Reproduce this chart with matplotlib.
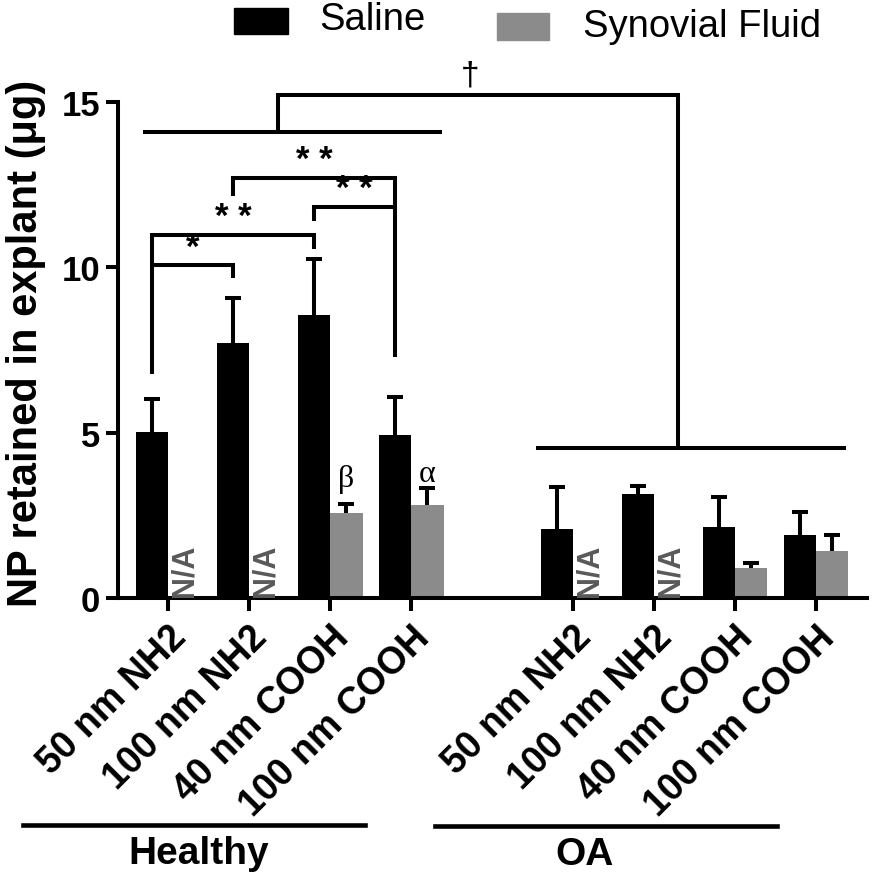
import numpy as np
import matplotlib
matplotlib.use("Agg")
import matplotlib.pyplot as plt
from matplotlib.patches import Rectangle
from matplotlib.lines import Line2D
import matplotlib.transforms as mtransforms

plt.rcParams['font.family'] = ['Liberation Sans', 'DejaVu Sans']

# data
categories = ['50 nm NH2', '100 nm NH2', '40 nm COOH', '100 nm COOH']
healthy_saline = [5.02, 7.70, 8.55, 4.92]
healthy_saline_sd = [1.0, 1.36, 1.70, 1.15]
healthy_sf = [np.nan, np.nan, 2.57, 2.82]
healthy_sf_sd = [np.nan, np.nan, 0.28, 0.50]
oa_saline = [2.09, 3.13, 2.15, 1.91]
oa_saline_sd = [1.25, 0.26, 0.91, 0.69]
oa_sf = [np.nan, np.nan, 0.90, 1.42]
oa_sf_sd = [np.nan, np.nan, 0.17, 0.47]

healthy_pos = [0, 1, 2, 3]
oa_pos = [5, 6, 7, 8]

W, H = 873, 879
LW = 2.9
GREY = '#8b8b8b'

fig = plt.figure(figsize=(W / 100, H / 100), dpi=100)
ax = fig.add_axes([118 / W, 1 - 599 / H, (867 - 118) / W, (599 - 102.7) / H])

bw = 0.4
pos = np.array(healthy_pos + oa_pos, dtype=float)
saline = np.array(healthy_saline + oa_saline)
saline_sd = np.array(healthy_saline_sd + oa_saline_sd)
sf = np.array(healthy_sf + oa_sf)
sf_sd = np.array(healthy_sf_sd + oa_sf_sd)

ax.bar(pos - bw / 2, saline, bw, color='black', zorder=2)
ok = ~np.isnan(sf)
ax.bar(pos[ok] + bw / 2, sf[ok], bw, color=GREY, zorder=2)

err_kw = dict(fmt='none', ecolor='black', elinewidth=LW, capsize=5.5, capthick=LW, zorder=3)
e1 = ax.errorbar(pos - bw / 2, saline, yerr=[np.zeros_like(saline), saline_sd], **err_kw)
e2 = ax.errorbar(pos[ok] + bw / 2, sf[ok], yerr=[np.zeros(ok.sum()), sf_sd[ok]], **err_kw)
# only the upper caps are shown
for e in (e1, e2):
    e[1][0].set_visible(False)

# N/A labels for missing synovial fluid bars
for p in pos[~ok]:
    ax.text(p + bw / 2, 0.05, 'N/A', rotation=90, ha='center', va='bottom',
            fontsize=22, fontweight='bold', color='#595959', zorder=4)

# greek markers
ax.text(2 + bw / 2, 3.38, 'β', ha='center', va='baseline', fontsize=23,
        family=['Liberation Serif', 'DejaVu Serif'])
ax.text(3 + bw / 2, 3.55, 'α', ha='center', va='baseline', fontsize=23,
        family=['Liberation Serif', 'DejaVu Serif'])

# significance brackets (saline bar centers)
def line(xs, ys):
    ax.plot(xs, ys, color='black', lw=LW, clip_on=False, zorder=5,
            solid_joinstyle='miter', solid_capstyle='butt')

brackets = [
    (0, 1, 10.05, 10.05, 9.66, '*'),
    (0, 2, 10.97, 6.78, 10.55, '* *'),
    (1, 3, 12.68, 12.16, 7.28, '* *'),
    (2, 3, 11.81, 11.40, 11.81, '* *'),
]
for a, b, y, lb, rb, lab in brackets:
    xa, xb = a - bw / 2, b - bw / 2
    line([xa, xa, xb, xb], [lb, y, y, rb])
    ax.text((xa + xb) / 2, y + 0.06, lab, ha='center', va='bottom',
            fontsize=25, fontweight='bold')

# healthy vs OA comparison
line([-0.31, 3.38], [14.09, 14.09])
line([4.54, 8.37], [4.54, 4.54])
line([1.35, 1.35, 6.30, 6.30], [14.09, 15.21, 15.21, 4.54])
ax.text(3.73, 15.35, '†', ha='center', va='bottom', fontsize=24)

# axes styling
ax.set_xlim(-0.62, 8.63)
ax.set_ylim(0, 15)
ax.set_yticks([0, 5, 10, 15])
ax.set_xticks(pos)
ax.set_xticklabels(categories * 2, rotation=45, ha='right', va='top',
                   rotation_mode='anchor', fontsize=27, fontweight='bold')
offset = mtransforms.ScaledTranslation(4 / 100, -5 / 100, fig.dpi_scale_trans)
for lbl in ax.get_xticklabels():
    lbl.set_transform(lbl.get_transform() + offset)
for lbl in ax.get_yticklabels():
    lbl.set_fontsize(25)
    lbl.set_fontweight('bold')
ax.spines['top'].set_visible(False)
ax.spines['right'].set_visible(False)
for s in ('left', 'bottom'):
    ax.spines[s].set_linewidth(LW)
ax.tick_params(axis='both', width=LW, length=9, direction='out')
ax.tick_params(axis='y', pad=4)
ax.tick_params(axis='x', pad=6)

fig.text(26 / W, 1 - 343 / H, 'NP retained in explant (μg)', rotation=90,
         ha='center', va='center', fontsize=30, fontweight='bold')

# group lines and labels
fig.add_artist(Line2D([23 / W, 365 / W], [1 - 826 / H] * 2, color='black', lw=3.3))
fig.add_artist(Line2D([435 / W, 777 / W], [1 - 827 / H] * 2, color='black', lw=3.3))
fig.text(199 / W, 1 - 854 / H, 'Healthy', ha='center', va='center', fontsize=28, fontweight='bold')
fig.text(585 / W, 1 - 855 / H, 'OA', ha='center', va='center', fontsize=28, fontweight='bold')

# legend
fig.add_artist(Rectangle((234 / W, 1 - 35 / H), 54 / W, 26 / H, color='black',
                         transform=fig.transFigure))
fig.add_artist(Rectangle((497 / W, 1 - 41 / H), 52 / W, 27 / H, color=GREY,
                         transform=fig.transFigure))
fig.text(319 / W, 1 - 20 / H, 'Saline', ha='left', va='center', fontsize=27.5)
fig.text(583 / W, 1 - 27 / H, 'Synovial Fluid', ha='left', va='center', fontsize=27.5)

fig.savefig('out.png', dpi=100)
